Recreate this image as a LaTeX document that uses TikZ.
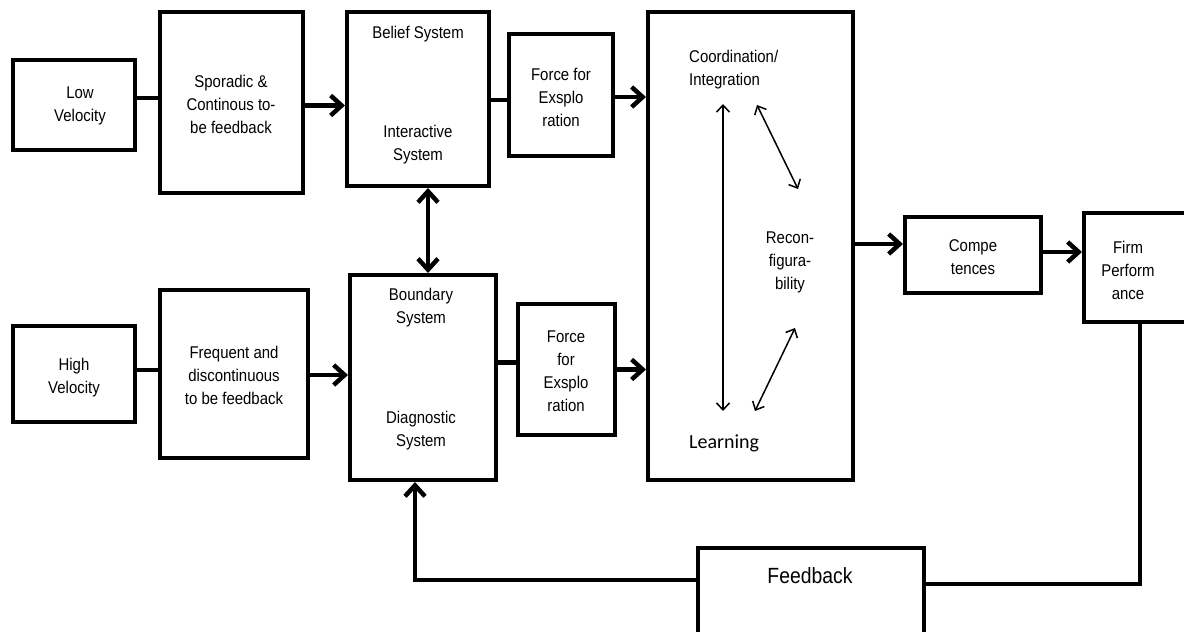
\documentclass[tikz,border=0pt]{standalone}
\usepackage{fontspec}
\setmainfont{Liberation Sans}[FakeStretch=0.88]
\newfontfamily\learnfont{Carlito}
\usetikzlibrary{arrows.meta,calc}
\begin{document}
\begin{tikzpicture}[x=1pt,y=-1pt,
  box/.style={draw=black,line width=4pt,rectangle,inner sep=0pt},
  txt/.style={align=center,inner sep=0pt,font=\fontsize{17pt}{23pt}\selectfont},
  conn/.style={line width=4.5pt,draw=black},
  arr/.style={conn,-{Straight Barb[length=11pt,width=20pt]}},
  darr/.style={conn,{Straight Barb[length=11pt,width=20pt]}-{Straight Barb[length=11pt,width=20pt]}},
  thin/.style={line width=1.5pt,{Straight Barb[length=7pt,width=13pt]}-{Straight Barb[length=7pt,width=13pt]}}]
\useasboundingbox[fill=white] (0,0) rectangle (1184,632);

% boxes
\node[box,minimum width=122pt,minimum height=90pt] (low) at (74,105) {};
\node[box,minimum width=143pt,minimum height=181pt] (spor) at (231.5,102.5) {};
\node[box,minimum width=142pt,minimum height=174pt] (belief) at (418,99) {};
\node[box,minimum width=104pt,minimum height=122pt] (force1) at (561,95) {};
\node[box,minimum width=205pt,minimum height=468pt] (big) at (750.5,246) {};
\node[box,minimum width=136pt,minimum height=76pt] (compe) at (973,255) {};
\node[box,minimum width=106pt,minimum height=109pt] (firm) at (1137,267.5) {};
\node[box,minimum width=122pt,minimum height=96pt] (high) at (74,374) {};
\node[box,minimum width=148pt,minimum height=168pt] (freq) at (234,374) {};
\node[box,minimum width=146pt,minimum height=205pt] (bound) at (423,377.5) {};
\node[box,minimum width=97pt,minimum height=131pt] (force2) at (566.5,369.5) {};
\node[box,minimum width=226pt,minimum height=92pt] (feedback) at (811,594) {};

% texts
\node[txt] (tlow) at (80,106) {Low\\Velocity};
\node[txt] (thigh) at (74,378) {High\\Velocity};
\node[txt] (tspor) at (231,104) {Sporadic \&\\Continous to-\\be feedback};
\node[txt] (tfreq) at (234,375) {Frequent and\\discontinuous\\to be feedback};
\node[txt] (tbel) at (418,34) {Belief System};
\node[txt] (tint) at (418,145) {Interactive\\System};
\node[txt] (tbnd) at (421,308) {Boundary\\System};
\node[txt] (tdia) at (421,431) {Diagnostic\\System};
\node[txt] (tf1) at (561,97) {Force for\\Exsplo\\ration};
\node[txt] (tf2) at (566,371) {Force\\for\\Exsplo\\ration};
\node[txt,anchor=west,align=left] (tcoord) at (689,70) {Coordination/\\Integration};
\node[txt] (trecon) at (790,262) {Recon-\\figura-\\bility};
\node[inner sep=0pt,anchor=west,font=\learnfont\fontsize{20pt}{24pt}\selectfont] (tlearn) at (689,443) {Learning};
\node[txt] (tcompe) at (973,257) {Compe\\tences};
\node[txt] (tfirm) at (1128,270) {Firm\\Perform\\ance};
\node[inner sep=0pt,font=\fontsize{22pt}{26pt}\selectfont] (tfb) at (810,576) {Feedback};

% connectors (top row)
\draw[conn] ([yshift=7pt]low.east) -- ([yshift=7pt]low.east -| spor.west);
\draw[arr] ([yshift=-3pt]spor.east) -- ([yshift=-3pt]spor.east -| belief.west);
\draw[conn] ([yshift=-5pt]belief.east |- force1.west) -- ([yshift=-5pt]force1.west);
\draw[arr] ([yshift=-2pt]force1.east) -- ([yshift=-2pt]force1.east -| big.west);
% bottom row
\draw[conn] ([yshift=4pt]high.east) -- ([yshift=4pt]high.east -| freq.west);
\draw[arr] ([yshift=-1pt]freq.east) -- ([yshift=-1pt]freq.east -| bound.west);
\draw[conn] ([yshift=7pt]bound.east |- force2.west) -- ([yshift=7pt]force2.west);
\draw[arr] (force2.east) -- (force2.east -| big.west);
% right side
\draw[arr] ([yshift=2pt]big.east) -- ([yshift=2pt]big.east -| compe.west);
\draw[arr] ([yshift=3pt]compe.east) -- ([yshift=3pt]compe.east -| firm.west);
% vertical double arrow
\draw[darr] ([xshift=10pt]belief.south) -- ([xshift=10pt]belief.south |- bound.north);
% feedback loop
\draw[conn] ([xshift=3pt]firm.south) |- ([yshift=10pt]feedback.east);
\draw[arr] ([yshift=14pt]feedback.west) -| ([xshift=-8pt]bound.south);

% inner arrows
\coordinate (v1) at (723,104);
\coordinate (v2) at (723,411);
\coordinate (d1) at (757,105);
\coordinate (d2) at (798,189);
\coordinate (d3) at (795,328);
\coordinate (d4) at (755,411);
\draw[thin] (v1) -- (v2);
\draw[thin] (d1) -- (d2);
\draw[thin] (d3) -- (d4);
\end{tikzpicture}
\end{document}
